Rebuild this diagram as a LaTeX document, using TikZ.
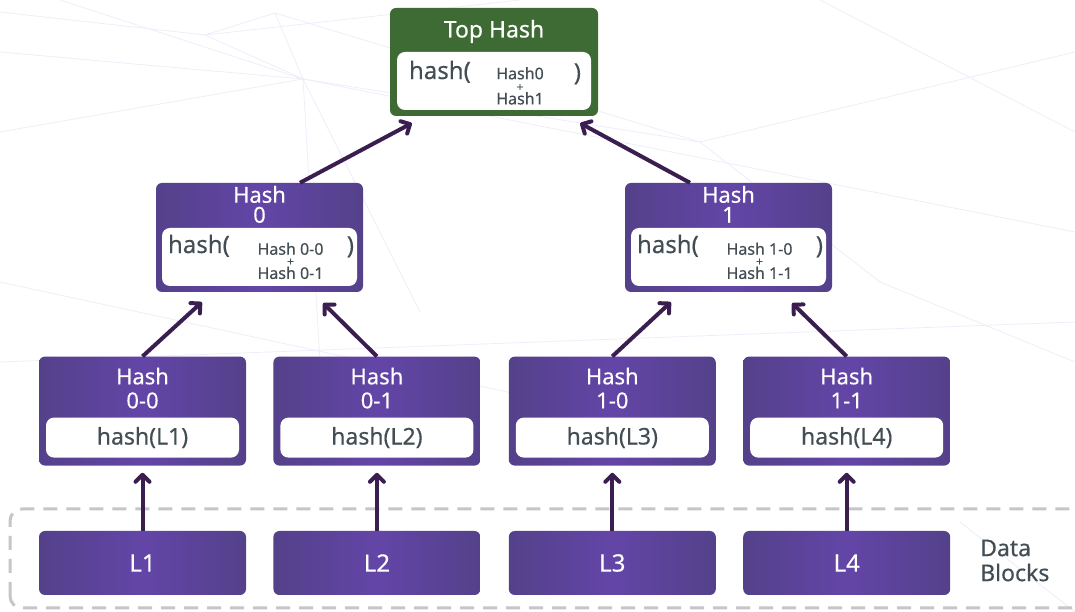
\documentclass[tikz,border=0pt]{standalone}
\usepackage{fontspec}
\setmainfont{Noto Sans}[FakeBold=0.35]
\usetikzlibrary{positioning, arrows.meta}

\definecolor{boxedge}{HTML}{54418A}
\definecolor{boxmid}{HTML}{6345A7}
\definecolor{topgreen}{HTML}{3E6A33}
\definecolor{arrowcol}{HTML}{3B1E50}
\definecolor{txtgray}{HTML}{434D54}
\definecolor{dashgray}{HTML}{C6C6CA}
\definecolor{webline}{HTML}{F0EDF9}

\begin{document}
\begin{tikzpicture}[x=1pt, y=1pt,
  hash box/.style={rectangle, rounded corners=6pt, left color=boxedge,
    right color=boxedge, middle color=boxmid, minimum width=207pt, minimum height=109pt},
  data box/.style={hash box, minimum height=64pt, text=white, font=\fontsize{24}{24}\selectfont},
  top box/.style={rectangle, rounded corners=6pt, fill=topgreen, minimum width=208pt, minimum height=108pt},
  in box/.style={rectangle, rounded corners=8pt, fill=white, inner sep=0pt, text=txtgray},
  title/.style={text=white, align=center, inner sep=0pt, anchor=north},
  small/.style={text=txtgray, align=center, inner sep=0pt},
  big/.style={text=txtgray, inner sep=0pt, font=\fontsize{24}{24}\selectfont},
  web/.style={draw=webline, line width=0.8pt},
  arr/.style={draw=arrowcol, line width=4pt, -{Straight Barb[length=7pt, width=14pt, round]}}]

  \useasboundingbox[fill=white] (0,0) rectangle (1075,612);

  % faint background web
  \coordinate (w1) at (303,533);
  \coordinate (w2) at (275,599);
  \coordinate (w3) at (205,577);
  \coordinate (w4) at (700,470);
  \coordinate (w5) at (880,330);
  \foreach \a/\b in {w1/w2, w1/w3, w2/w3, w1/w4, w4/w5} \draw[web] (\a) -- (\b);
  \draw[web] (0,560) -- (w1) -- (420,300);
  \draw[web] (0,600) -- (w3) -- (520,612);
  \draw[web] (0,480) -- (w1) -- (1075,380);
  \draw[web] (60,612) -- (w1) -- (320,250);
  \draw[web] (w2) -- (w4) -- (1075,560);
  \draw[web] (w5) -- (1075,250);
  \draw[web] (0,330) -- (600,200);
  \draw[web] (0,250) -- (1075,290);
  \draw[web] (960,90) -- (1075,0);
  \draw[web] (820,612) -- (1075,480);

  % data blocks
  \draw[dashgray, line width=3pt, dash pattern=on 14pt off 9pt, rounded corners=12pt]
    (10,4) rectangle (1100,103);
  \node[data box] (l1) at (142.5,49) {L1};
  \node[data box, right=27pt of l1] (l2) {L2};
  \node[data box, right=28pt of l2] (l3) {L3};
  \node[data box, right=27pt of l3] (l4) {L4};
  \node[anchor=west, text=txtgray, align=left, inner sep=0pt,
    font=\fontsize{23}{25}\selectfont] (blocks) at (980,51.5) {Data\\Blocks};

  % leaf hashes
  \foreach \h/\l/\t in {h00/1/0-0, h01/2/0-1, h10/3/1-0, h11/4/1-1} {
    \node[hash box, above=65pt of l\l] (\h) {};
    \node[title, font=\fontsize{22}{24}\selectfont] at ([yshift=-11pt]\h.north) {Hash\\\t};
    \node[in box, minimum width=193pt, minimum height=40pt, above=8pt of \h.south,
      font=\fontsize{23}{23}\selectfont] (\h-in) {hash(L\l)};
  }

  % middle hashes
  \node[hash box] (h0) at (259.5,374.5) {};
  \node[hash box] (h1) at (728.5,374.5) {};
  \foreach \h/\t in {h0/0, h1/1} {
    \node[title, font=\fontsize{22}{20}\selectfont] at ([yshift=-3pt]\h.north) {Hash\\\t};
    \node[in box, minimum width=195pt, minimum height=58pt, above=6pt of \h.south] (\h-in) {};
    \node[big, anchor=west] at ([xshift=6pt, yshift=-18pt]\h-in.north west) {hash(};
    \node[small, font=\fontsize{16}{11}\selectfont] at ([xshift=31pt, yshift=-33pt]\h-in.north)
      {Hash \t-0\\{\fontsize{12}{10}\selectfont +}\\Hash \t-1};
    \node[big, anchor=east] at ([xshift=-3pt, yshift=-19pt]\h-in.north east) {)};
  }

  % top hash
  \node[top box] (top) at (494,550) {};
  \node[title, font=\fontsize{23}{24}\selectfont] at ([yshift=-12pt]top.north) {Top Hash};
  \node[in box, minimum width=194pt, minimum height=58pt, above=6pt of top.south] (top-in) {};
  \node[big, anchor=west] at ([xshift=12pt, yshift=-20pt]top-in.north west) {hash(};
  \node[small, font=\fontsize{16}{12}\selectfont] at ([xshift=26pt, yshift=-34pt]top-in.north)
    {Hash0\\{\fontsize{12}{10}\selectfont +}\\Hash1};
  \node[big, anchor=east] at ([xshift=-10pt, yshift=-22pt]top-in.north east) {)};

  % arrows
  \foreach \s/\t in {l1/h00, l2/h01, l3/h10, l4/h11}
    \draw[arr] (\s.north) -- ([yshift=-7pt]\t.south);
  \foreach \s/\t in {h00/h0, h10/h1}
    \draw[arr] (\s.north) -- ([shift={(46pt,-10pt)}]\t.south west);
  \foreach \s/\t in {h01/h0, h11/h1}
    \draw[arr] (\s.north) -- ([shift={(-40pt,-11pt)}]\t.south east);
  \draw[arr] ([xshift=40.5pt]h0.north) -- ([shift={(22pt,-7pt)}]top.south west);
  \draw[arr] ([xshift=-38.5pt]h1.north) -- ([shift={(-18pt,-7pt)}]top.south east);
\end{tikzpicture}
\end{document}
